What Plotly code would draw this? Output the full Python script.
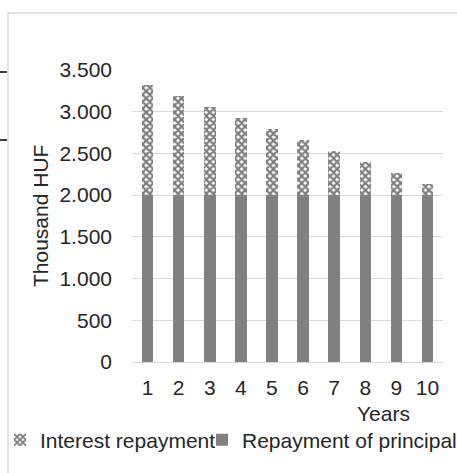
import plotly.graph_objects as go

years = ["1", "2", "3", "4", "5", "6", "7", "8", "9", "10"]
principal = [2000, 2000, 2000, 2000, 2000, 2000, 2000, 2000, 2000, 2000]
interest = [1320, 1188, 1056, 924, 792, 660, 528, 396, 264, 132]
y_ticks = [0, 500, 1000, 1500, 2000, 2500, 3000, 3500]

W, H = 457, 473
L, R, T, B = 132, 14, 70, 111
pw, ph = W - L - R, H - T - B

def px(x):
    return (x - L) / pw

def py(y):
    return (H - B - y) / ph

def cx(x):
    return x / W

def cy(y):
    return (H - y) / H

FONT = "Liberation Sans, Arial, sans-serif"
TXT = "#262626"
FS = 21

fig = go.Figure()
fig.add_trace(go.Bar(
    x=years, y=principal, name="Repayment of principal",
    marker=dict(color="#808080", line=dict(width=0)),
    width=0.37, legend="legend2",
))
fig.add_trace(go.Bar(
    x=years, y=interest, name="Interest repayment",
    marker=dict(color="white", line=dict(width=0),
                pattern=dict(shape="x", size=5, solidity=0.7,
                             fgcolor="black", bgcolor="white")),
    width=0.37, legend="legend",
))

fig.update_layout(
    width=W, height=H,
    margin=dict(l=L, r=R, t=T, b=B, autoexpand=False),
    barmode="stack",
    paper_bgcolor="white", plot_bgcolor="white",
    separators=",.",
    font=dict(family=FONT, size=FS, color=TXT),
    xaxis=dict(type="category", showgrid=False, showline=False, ticks="",
               ticklabelstandoff=11, tickfont=dict(size=FS, color=TXT),
               automargin=False),
    yaxis=dict(range=[0, 3500], tickvals=y_ticks, tickformat=",",
               showgrid=True, gridcolor="#d9d9d9", gridwidth=1.3,
               zeroline=True, zerolinecolor="#d9d9d9", zerolinewidth=1.3,
               showline=False, ticks="", ticklabelstandoff=19,
               tickfont=dict(size=FS, color=TXT), automargin=False),
    legend=dict(orientation="h", xref="container", yref="container",
                x=cx(-4), y=cy(440), xanchor="left",
                yanchor="middle", font=dict(size=FS, color=TXT),
                bgcolor="rgba(0,0,0,0)", itemwidth=30),
    legend2=dict(orientation="h", xref="container", yref="container",
                 x=cx(202), y=cy(440), xanchor="left",
                 yanchor="middle", font=dict(size=FS, color=TXT),
                 bgcolor="rgba(0,0,0,0)", itemwidth=30),
    annotations=[
        dict(text="Years", x=px(383), y=py(413), xref="paper", yref="paper",
             showarrow=False, xanchor="center", yanchor="middle",
             font=dict(size=FS, color=TXT)),
        dict(text="Thousand HUF", x=px(40), y=0.5, xref="paper", yref="paper",
             showarrow=False, textangle=-90, xanchor="center", yanchor="middle",
             font=dict(size=FS, color=TXT)),
    ],
    shapes=[
        dict(type="rect", xref="paper", yref="paper",
             x0=px(8), x1=px(470), y0=py(13), y1=py(490),
             line=dict(color="#d9d9d9", width=1.5), fillcolor="rgba(0,0,0,0)",
             layer="below"),
        dict(type="line", xref="paper", yref="paper",
             x0=px(0), x1=px(7), y0=py(72), y1=py(72),
             line=dict(color="black", width=1.5)),
        dict(type="line", xref="paper", yref="paper",
             x0=px(0), x1=px(7), y0=py(140), y1=py(140),
             line=dict(color="black", width=1.5)),
    ],
    showlegend=True,
)

fig.write_html(
    "out.html",
    config={"displayModeBar": False},
    post_script="document.body.style.margin='0';document.body.style.padding='0';",
)
